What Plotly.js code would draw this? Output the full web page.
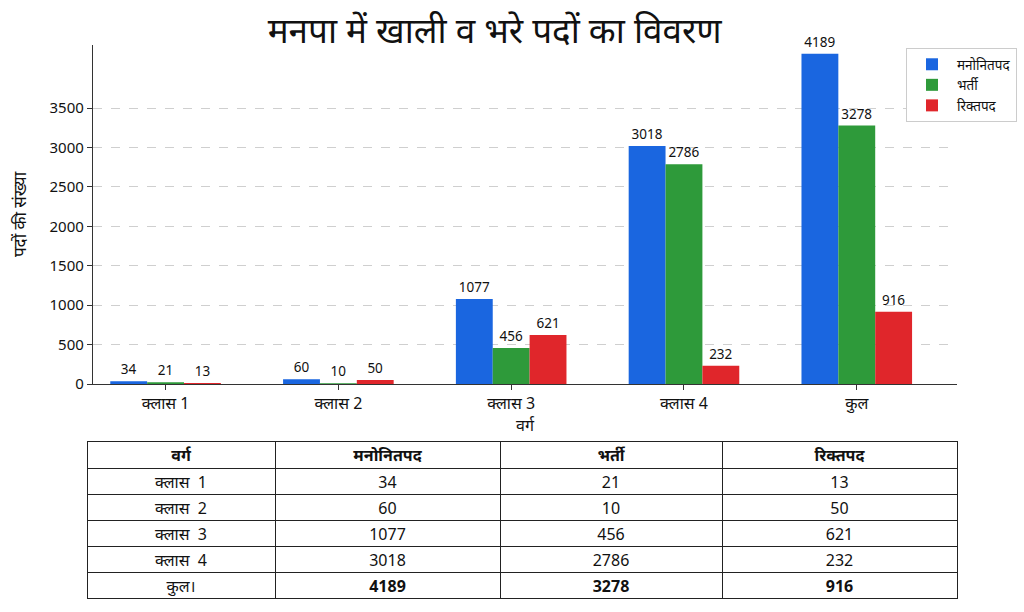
<!DOCTYPE html>
<html><head><meta charset="utf-8">
<script src="https://cdn.plot.ly/plotly-3.0.1.min.js"></script>
<style>html,body{margin:0;padding:0;background:#fff}#chart{width:1024px;height:612px}</style>
</head><body><div id="chart"></div>
<script>
const categories = ['क्लास 1', 'क्लास 2', 'क्लास 3', 'क्लास 4', 'कुल'];
const seriesNames = ['मनोनितपद', 'भर्ती', 'रिक्तपद'];
const nominated = [34, 60, 1077, 3018, 4189];
const filled = [21, 10, 456, 2786, 3278];
const vacant = [13, 50, 621, 232, 916];
const yTicks = [0, 500, 1000, 1500, 2000, 2500, 3000, 3500];
const tableHeader = ['वर्ग', 'मनोनितपद', 'भर्ती', 'रिक्तपद'];
const tableRowLabels = ['क्लास  1', 'क्लास  2', 'क्लास  3', 'क्लास  4', 'कुल।'];

const colors = ['#1a66e0', '#2e9a3a', '#e0262b'];
const FONT = 'Noto Sans, Noto Sans Devanagari, DejaVu Sans, sans-serif';
const series = [nominated, filled, vacant];

const bars = series.map((vals, i) => ({
  type: 'bar', name: seriesNames[i], x: categories, y: vals,
  marker: {color: colors[i], line: {width: 0}},
  text: vals.map(String), textposition: 'outside', cliponaxis: false,
  textfont: {family: FONT, size: 13.5, color: '#111'},
  xaxis: 'x', yaxis: 'y'
}));

const lastIdx = categories.length - 1;
const weightCol = (n, isLabel) => Array.from({length: n}, (_, k) => (k === lastIdx && !isLabel) ? 'bold' : 'normal');
const table = {
  type: 'table',
  domain: {x: [87/1024, 957/1024], y: [0, (612-441)/612]},
  columnwidth: [188, 225, 222, 235],
  header: {
    values: tableHeader,
    align: 'center', height: 27,
    line: {color: '#222', width: 1}, fill: {color: '#fff'},
    font: {family: FONT, size: 16, color: '#111', weight: 'bold'}
  },
  cells: {
    values: [tableRowLabels, nominated.map(String), filled.map(String), vacant.map(String)],
    align: 'center', height: 26,
    line: {color: '#222', width: 1}, fill: {color: '#fff'},
    font: {family: FONT, size: 16, color: '#111',
           weight: [weightCol(5, true), weightCol(5, false), weightCol(5, false), weightCol(5, false)]}
  }
};

const layout = {
  width: 1024, height: 612,
  margin: {l: 0, r: 0, t: 0, b: 0},
  paper_bgcolor: '#fff', plot_bgcolor: '#fff',
  font: {family: FONT, color: '#111'},
  title: {text: 'मनपा में खाली व भरे पदों का विवरण', x: 0.483, xanchor: 'center',
          y: 0.95, yanchor: 'middle', font: {family: FONT, size: 35, color: '#111'}},
  barmode: 'group', bargap: 0.36, bargroupgap: 0,
  xaxis: {
    domain: [93/1024, 957/1024], range: [-0.42, 4.58], type: 'category',
    showline: true, linecolor: '#333', linewidth: 1.2,
    ticks: 'outside', ticklen: 5, tickcolor: '#333',
    tickfont: {family: FONT, size: 16, color: '#111'},
    title: {text: 'वर्ग', font: {family: FONT, size: 16, color: '#111'}, standoff: 2},
    automargin: false, showgrid: false, zeroline: false
  },
  yaxis: {
    domain: [(612-384)/612, (612-45)/612], range: [0, 4300],
    tickvals: yTicks, ticktext: yTicks.map(String),
    showline: true, linecolor: '#333', linewidth: 1.2,
    ticks: 'outside', ticklen: 5, tickcolor: '#333',
    tickfont: {family: FONT, size: 15, color: '#111'},
    showgrid: true, gridcolor: '#cfcfcf', griddash: 'dash', gridwidth: 1,
    zeroline: false,
    title: {text: 'पदों की संख्या', font: {family: FONT, size: 17, color: '#111'}, standoff: 18},
    automargin: false
  },
  legend: {
    x: 1017/1024, xanchor: 'right', y: (612-48)/612, yanchor: 'top',
    bgcolor: '#fff', bordercolor: '#ccc', borderwidth: 1,
    font: {family: FONT, size: 13.5, color: '#111'}, itemwidth: 40
  },
  showlegend: true
};

Plotly.newPlot('chart', [...bars, table], layout, {displayModeBar: false, staticPlot: true});
</script></body></html>
